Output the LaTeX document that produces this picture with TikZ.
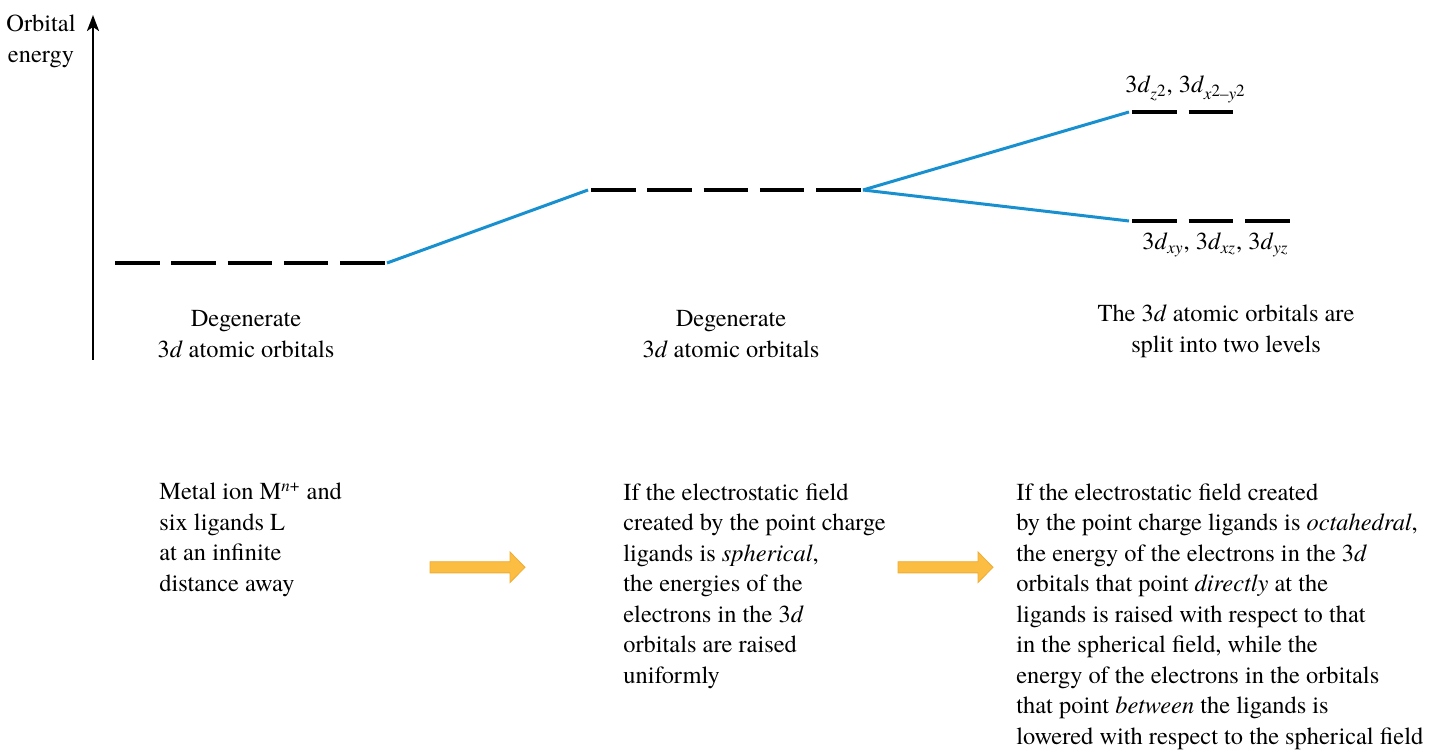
\documentclass[tikz,border=0pt]{standalone}
\usepackage{fontspec}
\setmainfont{texgyretermes}[Extension=.otf, UprightFont=*-regular, ItalicFont=*-italic, BoldFont=*-bold, BoldItalicFont=*-bolditalic]
\usetikzlibrary{arrows.meta}
\definecolor{splitblue}{RGB}{24,144,208}
\definecolor{stepgold}{RGB}{251,189,66}
\definecolor{stepedge}{RGB}{240,172,52}

\begin{document}
\begin{tikzpicture}[x=0.5pt, y=-0.5pt,
  level/.style={line width=1.65pt},
  link/.style={line width=1.5pt, splitblue},
  txt/.style={inner sep=0pt, font=\rmfamily\fontsize{12.2}{15.25}\selectfont},
  fat/.style={fill=stepgold, draw=stepedge, line width=0.4pt}]
\useasboundingbox (0,0) rectangle (1431,753);

% energy axis
\coordinate (base) at (93,360);
\coordinate (top) at (93,15);
\draw[line width=1.2pt, -{Stealth[length=8pt, width=6pt, inset=2pt]}] (base) -- (top);
\node[txt, align=center, anchor=base] (axislbl) at (41,62.5) {Orbital\\energy};

% the three sets of levels
\foreach \i in {0,...,4} \draw[level] ({115+56.3*\i},263) -- ++(44.5,0);
\foreach \i in {0,...,4} \draw[level] ({591+56.3*\i},190) -- ++(44.5,0);
\foreach \i in {0,1} \draw[level] ({1132+56.5*\i},112) -- ++(44.5,0);
\foreach \i in {0,1,2} \draw[level] ({1132+56.5*\i},221) -- ++(44.5,0);

\coordinate (freeR) at (387,263);
\coordinate (spherL) at (588,190);
\coordinate (spherR) at (863,190);
\coordinate (egL) at (1129,112);
\coordinate (tgL) at (1129,221);
\draw[link] (freeR) -- (spherL);
\draw[link] (spherR) -- (egL);
\draw[link] (spherR) -- (tgL);

\node[txt, anchor=base west] (eglbl) at (1125,93) {3\textit{d}\textsubscript{\textit{z}\raisebox{0.4ex}{2}}, 3\textit{d}\textsubscript{\textit{x}\raisebox{0.4ex}{2}–\textit{y}\raisebox{0.4ex}{2}}};
\node[txt, anchor=base west] (tglbl) at (1142,250) {3\textit{d}\textsubscript{\textit{xy}}, 3\textit{d}\textsubscript{\textit{xz}}, 3\textit{d}\textsubscript{\textit{yz}}};

% captions under the levels (base = last line)
\node[txt, align=center, anchor=base] (freelbl) at (246,357.5) {Degenerate\\3\textit{d} atomic orbitals};
\node[txt, align=center, anchor=base] (spherlbl) at (731,357.5) {Degenerate\\3\textit{d} atomic orbitals};
\node[txt, align=center, anchor=base] (octlbl) at (1226,352.5) {The 3\textit{d} atomic orbitals are\\split into two levels};

% explanations
\node[txt, align=left, anchor=base west] (freetxt) at (159,591.5) {Metal ion M\textsuperscript{\textit{n}+} and\\six ligands L\\at an infinite\\distance away};
\node[txt, align=left, anchor=base west] (sphertxt) at (623,683) {If the electrostatic field\\created by the point charge\\ligands is \textit{spherical},\\the energies of the\\electrons in the 3\textit{d}\\orbitals are raised\\uniformly};
\node[txt, align=left, anchor=base west] (octtxt) at (1016,744) {If the electrostatic field created\\by the point charge ligands is \textit{octahedral},\\the energy of the electrons in the 3\textit{d}\\orbitals that point \textit{directly} at the\\ligands is raised with respect to that\\in the spherical field, while the\\energy of the electrons in the orbitals\\that point \textit{between} the ligands is\\lowered with respect to the spherical field};

% step arrows
\foreach \ax in {430,898}
  \filldraw[fat] (\ax,561.7) -- ++(80,0) -- ++(0,-9.7) -- ++(15,15.3) -- ++(-15,15.3) -- ++(0,-9.7) -- ++(-80,0) -- cycle;
\end{tikzpicture}
\end{document}
